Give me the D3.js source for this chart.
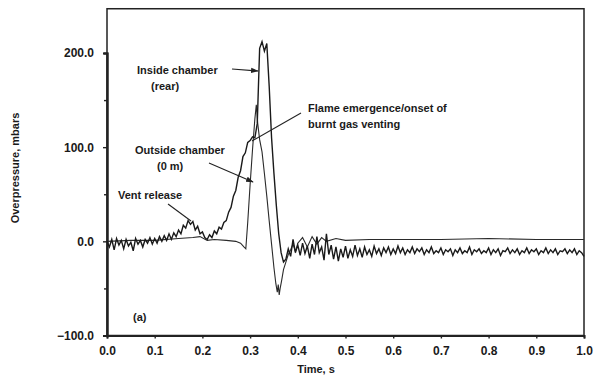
<!DOCTYPE html>
<html>
<head>
<meta charset="utf-8">
<script src="https://cdn.jsdelivr.net/npm/d3@7"></script>
<style>
  html, body { margin: 0; padding: 0; background: #fff; }
  svg { display: block; }
  text { font-family: "Liberation Sans", Arial, sans-serif; font-weight: bold; fill: #1a1a1a; }
</style>
</head>
<body>
<svg id="chart" width="595" height="378"></svg>
<script>
// ---------------- data ----------------
const xTicks = [0, 0.1, 0.2, 0.3, 0.4, 0.5, 0.6, 0.7, 0.8, 0.9, 1.0];
const yTicks = [-100, 0, 100, 200];
const yMinorTicks = [-50, 50, 150];

// Inside chamber (rear): sampled every 0.005 s from 0 to 1 s (noisy trace)
const insideStep = 0.005;
const insideValues = [
  0,-6,2,-9,3,-4,1,-8,2,-5,
  -1,-10,3,-3,1,-6,2,-2,4,-3,
  3,-2,5,0,6,1,8,2,9,5,
  12,8,17,14,22,18,21,12,16,8,
  10,4,2,7,4,11,8,15,13,20,
  22,31,36,48,54,68,75,90,94,105,
  107,111,110,125,205,212,202,210,165,110,
  72,38,8,-12,-22,-19,-8,-16,2,-12,
  -4,-15,-2,-13,-5,-18,-3,-14,5,-12,
  -6,-20,8,-14,-4,-19,-6,-21,-8,-17,
  -5,-18,-9,-16,-4,-15,-8,-17,-6,-14,
  -9,-16,-5,-13,-8,-15,-7,-12,-6,-14,
  -8,-13,-5,-12,-7,-14,-9,-12,-6,-13,
  -8,-11,-7,-14,-9,-12,-6,-13,-10,-12,
  -7,-14,-9,-11,-8,-15,-9,-12,-7,-13,
  -10,-12,-6,-14,-9,-11,-8,-13,-10,-12,
  -7,-14,-9,-12,-8,-15,-10,-11,-7,-13,
  -9,-12,-8,-14,-10,-12,-7,-13,-9,-11,
  -8,-14,-10,-12,-7,-13,-9,-12,-8,-14,
  -10,-11,-8,-13,-9,-12,-8,-14,-10,-12,
  -16
];

// Outside chamber (0 m): smoother trace
const outsideTimes = [0, 0.05, 0.10, 0.15, 0.18, 0.195, 0.21, 0.225, 0.25, 0.27, 0.28, 0.287, 0.291,
  0.295, 0.300, 0.305, 0.310, 0.313, 0.316, 0.320, 0.325, 0.330, 0.335, 0.340, 0.345, 0.350,
  0.354, 0.357, 0.359, 0.361, 0.363, 0.366, 0.370, 0.375, 0.380, 0.385, 0.390, 0.395, 0.40,
  0.41, 0.42, 0.43, 0.44, 0.45, 0.46, 0.48, 0.50, 0.55, 0.60, 0.70, 0.80, 0.90, 1.0];
const outsideValues = [0, 1, 1, 3, 4, 5, 1, 2, 1, 0, -2, -6, -8,
  20, 60, 97, 130, 145, 125, 108, 95, 72, 48, 22, -3, -28,
  -45, -54, -46, -57, -50, -42, -30, -22, -14, -9, -3, -11, -2,
  4, -6, 5, -3, 4, 0, 3, 1, 2, 2, 2, 3, 2, 2];

// ---------------- layout ----------------
const svg = d3.select("#chart");
const x = d3.scaleLinear().domain([0, 1]).range([107, 584]);
const y = d3.scaleLinear().domain([-100, 200]).range([335.5, 53]);
const yTop = 247;

const inside = insideValues.map((v, i) => [i * insideStep, v]);
const outside = outsideTimes.map((t, i) => [t, outsideValues[i]]);

const line = d3.line().x(d => x(d[0])).y(d => y(d[1]));

// frame
svg.append("rect")
  .attr("x", x(0)).attr("y", y(yTop))
  .attr("width", x(1) - x(0)).attr("height", y(-100) - y(yTop))
  .attr("fill", "none").attr("stroke", "#222").attr("stroke-width", 1.5);

// axes
const yAxis = svg.append("g").attr("transform", `translate(${x(0)},0)`)
  .call(d3.axisLeft(y).tickValues(yTicks).tickFormat(d3.format(".1f")).tickSize(4).tickPadding(9));
const yMinor = svg.append("g").attr("transform", `translate(${x(0)},0)`)
  .call(d3.axisLeft(y).tickValues(yMinorTicks).tickFormat("").tickSize(3));
const xAxis = svg.append("g").attr("transform", `translate(0,${y(-100)})`)
  .call(d3.axisBottom(x).tickValues(xTicks).tickFormat(d3.format(".1f")).tickSize(3).tickPadding(8));

[yAxis, yMinor, xAxis].forEach(g => {
  g.select(".domain").attr("stroke", "#222").attr("stroke-width", 2);
  g.selectAll(".tick line").attr("stroke", "#222").attr("stroke-width", 1.4);
  g.selectAll(".tick text").style("font-size", "12px").style("font-weight", "bold")
    .style("font-family", '"Liberation Sans", Arial, sans-serif').attr("fill", "#1a1a1a");
});

// series
svg.append("path").datum(outside).attr("d", line)
  .attr("fill", "none").attr("stroke", "#2a2a2a").attr("stroke-width", 1.1);
svg.append("path").datum(inside).attr("d", line)
  .attr("fill", "none").attr("stroke", "#1a1a1a").attr("stroke-width", 1.4);

// axis titles
svg.append("text").attr("x", 316).attr("y", 373).attr("text-anchor", "middle")
  .style("font-size", "11px").text("Time, s");
svg.append("text").attr("transform", "translate(19,168) rotate(-90)").attr("text-anchor", "middle")
  .style("font-size", "11px").text("Overpressure, mbars");

// annotations
svg.append("defs").append("marker").attr("id", "arr")
  .attr("viewBox", "0 0 10 10").attr("refX", 9).attr("refY", 5)
  .attr("markerWidth", 7).attr("markerHeight", 7).attr("orient", "auto")
  .append("path").attr("d", "M0,1.5 L10,5 L0,8.5 Z").attr("fill", "#222");

const ann = svg.append("g").style("font-size", "11px");
function label(tx, ty, str) { ann.append("text").attr("x", tx).attr("y", ty).text(str); }
label(137, 74, "Inside chamber");
label(151, 90, "(rear)");
label(135, 154, "Outside chamber");
label(157, 170, "(0 m)");
label(118, 199, "Vent release");
label(308, 112, "Flame emergence/onset of");
label(308, 128, "burnt gas venting");
label(133, 321, "(a)");

function pointer(x1, y1, x2, y2, arrow) {
  const l = svg.append("line").attr("x1", x1).attr("y1", y1).attr("x2", x2).attr("y2", y2)
    .attr("stroke", "#222").attr("stroke-width", 1.1);
  if (arrow) l.attr("marker-end", "url(#arr)");
}
pointer(232, 69, 258, 71, true);
pointer(209, 163, 253, 182, true);
pointer(168, 204, 191, 221, false);
pointer(301, 113, 252, 141, false);
</script>
</body>
</html>
